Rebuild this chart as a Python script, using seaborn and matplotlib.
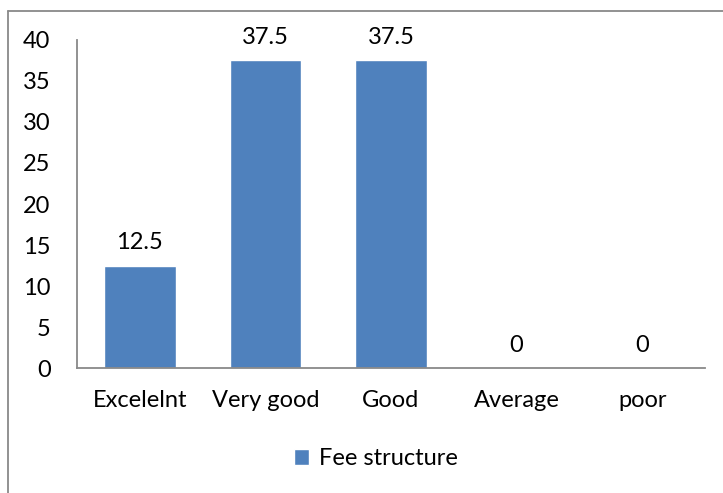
import pandas as pd
import matplotlib
matplotlib.use("Agg")
import matplotlib.pyplot as plt
import seaborn as sns
from matplotlib.lines import Line2D

categories = ["Excelelnt", "Very good", "Good", "Average", "poor"]
values = [12.5, 37.5, 37.5, 0, 0]
series_name = "Fee structure"

df = pd.DataFrame({"Rating": categories, "Percent": values, "Series": series_name})

sns.set_style("white")
plt.rcParams["font.family"] = ["Lato", "DejaVu Sans"]
plt.rcParams["font.size"] = 17
plt.rcParams["text.color"] = "black"
plt.rcParams["xtick.color"] = "black"
plt.rcParams["ytick.color"] = "black"

fig = plt.figure(figsize=(7.23, 4.93), dpi=100)
ax = fig.add_axes([0.1065, 0.2535, 0.8685, 0.6654])

sns.barplot(data=df, x="Rating", y="Percent", hue="Series",
            palette=["#4f81bd"], width=0.57, saturation=1, ax=ax, legend=True)

for c in ax.containers:
    ax.bar_label(c, labels=[f"{v:g}" for v in values], padding=9, fontsize=17)

ax.set_ylim(0, 40)
ax.set_yticks(range(0, 41, 5))
ax.set_xlim(-0.5, 4.5)
ax.set_xlabel("")
ax.set_ylabel("")
ax.tick_params(axis="both", labelsize=17)
ax.tick_params(axis="y", length=0, pad=19)
ax.tick_params(axis="x", length=0, pad=16)

for s in ["top", "right"]:
    ax.spines[s].set_visible(False)
for s in ["left", "bottom"]:
    ax.spines[s].set_color("#898989")
    ax.spines[s].set_linewidth(1.3)

leg = ax.get_legend()
leg.remove()
fig.legend(handles=leg.legend_handles, labels=[series_name], loc="center",
           bbox_to_anchor=(0.52, 0.069), frameon=False, handlelength=0.65,
           handleheight=0.65, handletextpad=0.4, fontsize=17)

# outer chart frame (left and top edges visible)
fig.add_artist(Line2D([8 / 723, 8 / 723], [0, 1 - 11 / 493], transform=fig.transFigure,
                      color="#898989", lw=1.3))
fig.add_artist(Line2D([8 / 723, 1], [1 - 11 / 493, 1 - 11 / 493], transform=fig.transFigure,
                      color="#898989", lw=1.3))

fig.savefig("out.png", dpi=100)
